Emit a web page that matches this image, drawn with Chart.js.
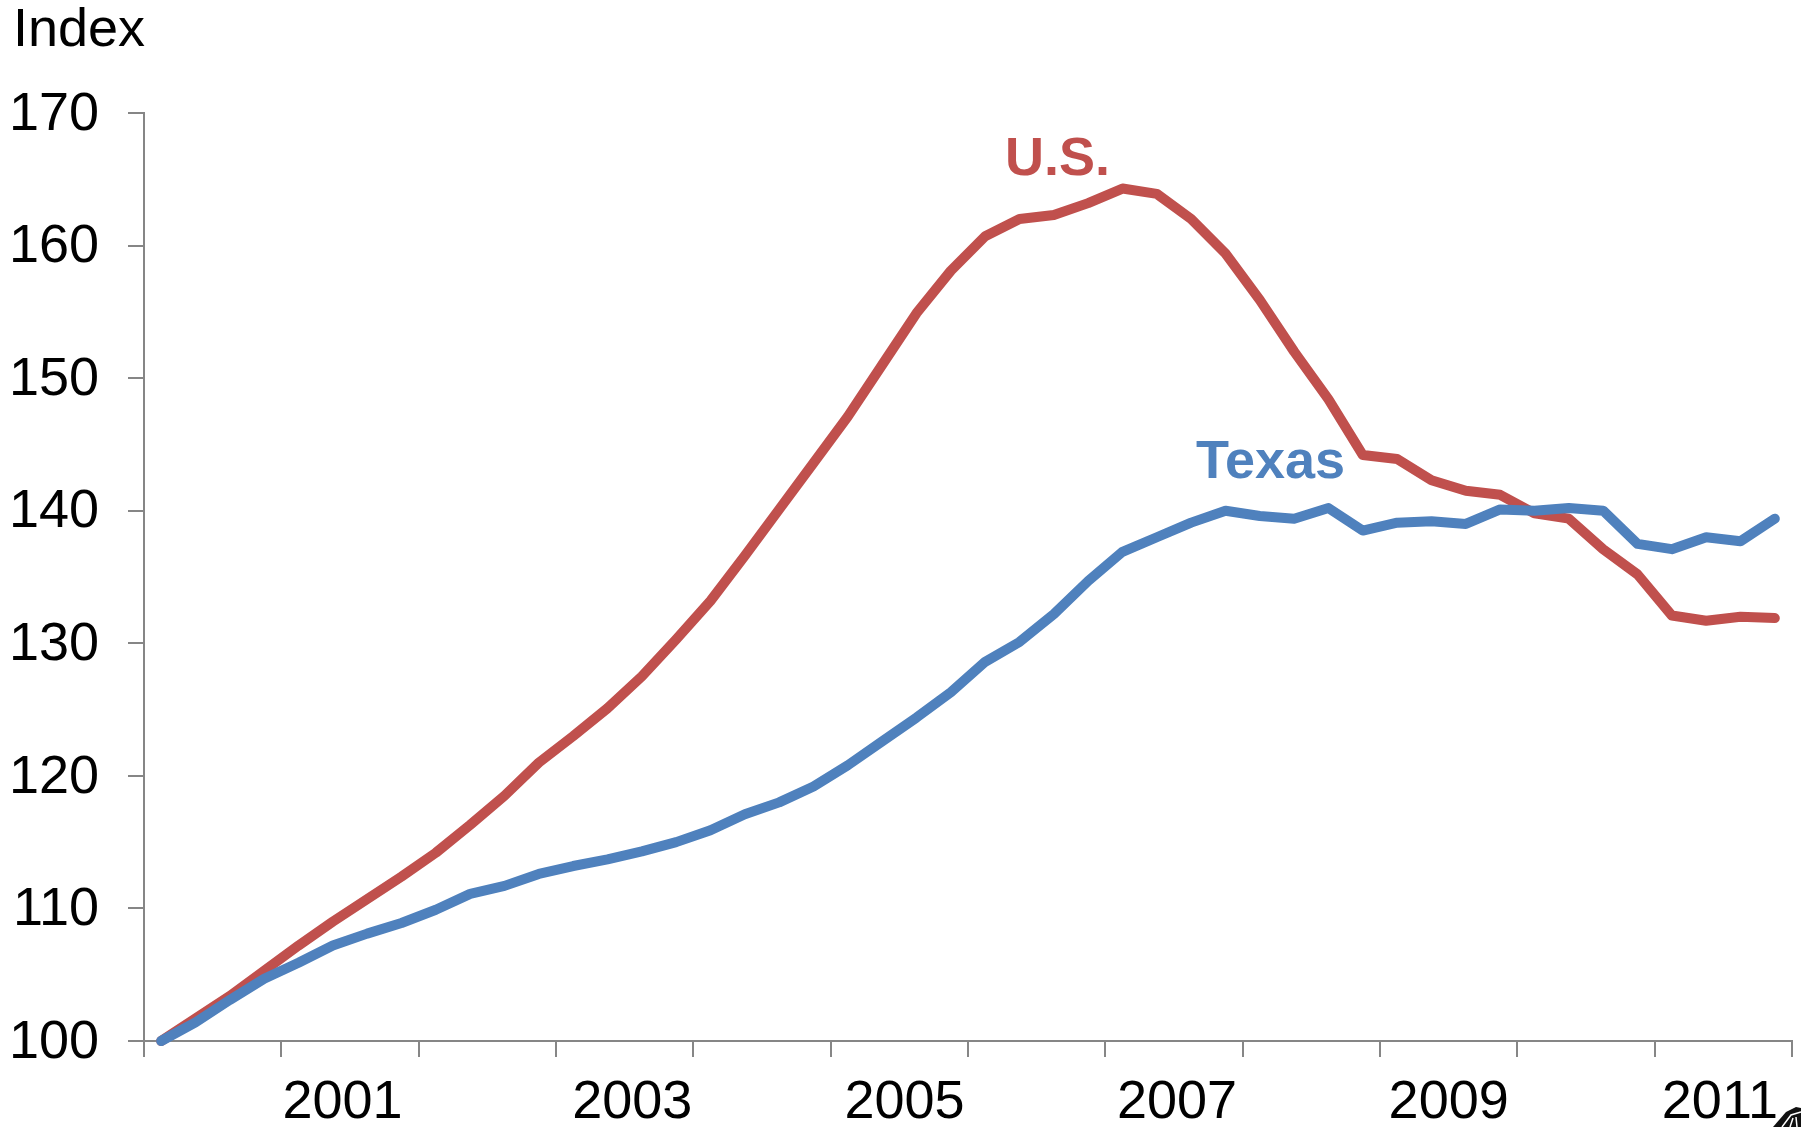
<!DOCTYPE html>
<html>
<head>
<meta charset="utf-8">
<style>html,body{margin:0;padding:0;background:#fff}canvas{display:block}</style>
<script src="https://cdn.jsdelivr.net/npm/chart.js@4"></script>
</head>
<body>
<canvas id="c" width="1801" height="1127"></canvas>
<script>
const quarters = [];
for (let y = 2000; y <= 2011; y++) for (let q = 1; q <= 4; q++) quarters.push(y + ' Q' + q);
const usValues = [100,101.7,103.4,105.3,107.2,109,110.7,112.4,114.2,116.3,118.5,121,123,125.1,127.5,130.3,133.2,136.6,140.1,143.6,147.1,151,154.9,158.1,160.7,162,162.3,163.2,164.3,163.9,162,159.4,155.9,152,148.4,144.2,143.9,142.3,141.5,141.2,139.8,139.4,137.1,135.2,132.1,131.7,132,131.9];
const texasValues = [100,101.4,103.1,104.7,105.9,107.2,108.1,108.9,109.9,111.1,111.7,112.6,113.2,113.7,114.3,115,115.9,117.1,118,119.2,120.8,122.6,124.4,126.3,128.6,130.1,132.2,134.7,136.9,138,139.1,140,139.6,139.4,140.2,138.5,139.1,139.2,139,140.1,140,140.2,140,137.5,137.1,138,137.7,139.4];
const yearLabels = ['2001','2003','2005','2007','2009','2011'];
const yearLabelIndex = [5.28,13.72,21.65,29.59,37.5,45.4];
const yTicks = [100,110,120,130,140,150,160,170];
const yLabelNudge = 0.14;

const AXIS = '#868686', FONT = '"Liberation Sans", Arial, sans-serif';
const toXY = vals => vals.map((v,i) => ({x:i, y:v}));

const textPlugin = {
  id:'texts',
  afterDatasetsDraw(chart){
    const {ctx} = chart;
    ctx.save();
    ctx.textBaseline = 'alphabetic'; ctx.textAlign = 'left';
    ctx.font = '54px ' + FONT; ctx.fillStyle = '#000';
    ctx.fillText('Index', 13, 46);
    ctx.font = 'bold 54px ' + FONT;
    ctx.fillStyle = '#C0504D'; ctx.fillText('U.S.', 1005, 175);
    ctx.fillStyle = '#4F81BD'; ctx.fillText('Texas', 1196, 478);
    // cut-off emblem in the lower right corner
    ctx.fillStyle = '#111';
    ctx.beginPath();
    ctx.moveTo(1773,1127); ctx.lineTo(1786,1112); ctx.lineTo(1796,1107); ctx.lineTo(1801,1108);
    ctx.lineTo(1801,1127); ctx.closePath(); ctx.fill();
    ctx.strokeStyle = '#fff'; ctx.lineWidth = 1.5;
    ctx.beginPath();
    ctx.moveTo(1782,1127); ctx.lineTo(1791,1115); ctx.lineTo(1801,1112);
    ctx.moveTo(1790,1127); ctx.lineTo(1793,1118);
    ctx.moveTo(1797,1127); ctx.lineTo(1796,1117);
    ctx.stroke();
    ctx.restore();
  }
};

new Chart(document.getElementById('c'), {
  type:'line',
  data:{ labels:quarters, datasets:[
    {label:'U.S.', data:toXY(usValues), borderColor:'#C0504D', borderWidth:10, pointRadius:0, tension:0, borderCapStyle:'round', borderJoinStyle:'round', clip:false, order:2},
    {label:'Texas', data:toXY(texasValues), borderColor:'#4F81BD', borderWidth:10, pointRadius:0, tension:0, borderCapStyle:'round', borderJoinStyle:'round', clip:false, order:1}
  ]},
  plugins:[textPlugin],
  options:{
    responsive:false, animation:false, devicePixelRatio:1,
    layout:{padding:{top:113, right:9, bottom:0, left:0}},
    plugins:{legend:{display:false}, title:{display:false}, tooltip:{enabled:false}},
    scales:{
      x:{
        type:'linear', position:'bottom', min:-0.5, max:47.5,
        afterBuildTicks(s){ const t=[]; for(let v=-0.5;v<=47.5;v+=4) t.push({value:v}); s.ticks=t; },
        ticks:{display:false, autoSkip:false},
        grid:{drawOnChartArea:false, drawTicks:true, tickLength:16, tickColor:AXIS, tickWidth:2, color:AXIS, lineWidth:2},
        border:{color:AXIS, width:2},
        afterFit(s){ s.height=16; }
      },
      xYears:{
        type:'linear', position:'bottom', min:-0.5, max:47.5,
        afterBuildTicks(s){ s.ticks=yearLabelIndex.map(v=>({value:v})); },
        ticks:{autoSkip:false, maxRotation:0, padding:14, color:'#000', font:{size:54, family:FONT},
          callback(v,i){ return yearLabels[i]; }},
        grid:{display:false, drawTicks:false},
        border:{display:false},
        afterFit(s){ s.height=70; }
      },
      y:{
        type:'linear', position:'left', min:100, max:170,
        afterBuildTicks(s){ s.ticks=yTicks.map(v=>({value:v})); },
        ticks:{display:false},
        grid:{drawOnChartArea:false, tickLength:16, tickColor:AXIS, tickWidth:2, color:AXIS, lineWidth:2},
        border:{color:AXIS, width:2},
        afterFit(s){ s.width=16; }
      },
      yLabels:{
        type:'linear', position:'left', min:100, max:170,
        afterBuildTicks(s){ s.ticks=yTicks.map(v=>({value:v-yLabelNudge})); },
        ticks:{padding:29, color:'#000', font:{size:54, family:FONT},
          callback(v,i){ return String(yTicks[i]); }},
        grid:{display:false, drawTicks:false},
        border:{display:false},
        afterFit(s){ s.width=128; }
      }
    }
  }
});
</script>
</body>
</html>
